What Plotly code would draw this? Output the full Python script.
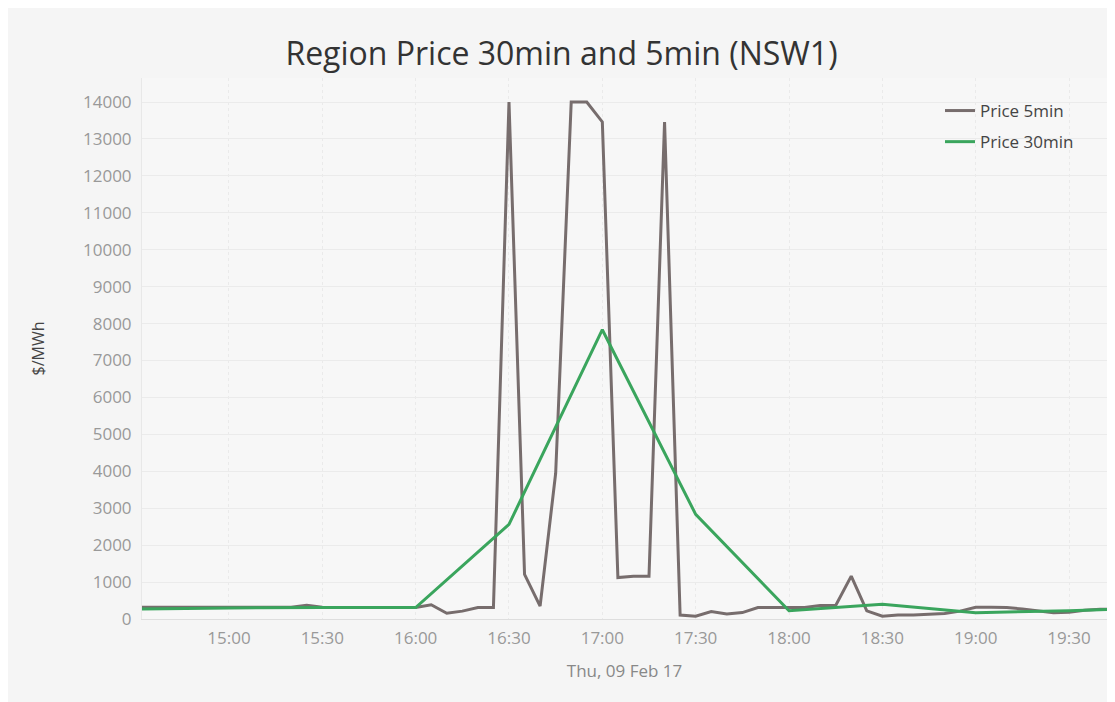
import plotly.graph_objects as go
import pandas as pd

# ---- data ----
times_5min = pd.date_range("2017-02-09 14:30", "2017-02-09 19:45", freq="5min")
price_5min = [
    320, 318, 316, 315, 315, 315,          # 14:30-14:55
    315, 315, 315, 315, 320, 370,          # 15:00-15:25
    320, 315, 312, 312, 310, 310,          # 15:30-15:55
    310, 387, 155, 213, 310, 310,          # 16:00-16:25
    14000, 1209, 348, 3946, 14000, 14000,  # 16:30-16:55
    13460, 1122, 1160, 1160, 13460, 106,   # 17:00-17:25
    77, 203, 135, 174, 310, 310,           # 17:30-17:55
    310, 310, 367, 367, 1160, 222,         # 18:00-18:25
    77, 106, 106, 126, 150, 213,           # 18:30-18:55
    317, 317, 310, 270, 222, 170,          # 19:00-19:25
    185, 240, 262, 270,                    # 19:30-19:45
]
times_30min = pd.date_range("2017-02-09 14:30", "2017-02-09 20:00", freq="30min")
price_30min = [265, 300, 310, 310, 2563, 7834, 2834, 222, 397, 170, 225, 300]

series_names = ["Price 5min", "Price 30min"]
series_colors = ["#776d6d", "#3aa55d"]

title_text = "Region Price 30min and 5min (NSW1)"
x_title = "Thu, 09 Feb 17"
y_title = "$/MWh"
x_range = ["2017-02-09 14:32:03", "2017-02-09 19:42:12"]
y_range = [0, 14650]

# ---- figure (page body has an 8px margin) ----
W, H = 1107, 694
ml, mr, mt, mb = 134, 8, 70, 83
pw, ph = W - ml - mr, H - mt - mb

fig = go.Figure()
fig.add_trace(go.Scatter(x=times_5min, y=price_5min, mode="lines", name=series_names[0],
                         legendgroup="a", line=dict(color=series_colors[0], width=3)))
fig.add_trace(go.Scatter(x=times_30min, y=price_30min, mode="lines", name=series_names[1],
                         legendgroup="b", line=dict(color=series_colors[1], width=3)))

font_family = "Open Sans, DejaVu Sans, sans-serif"
fig.update_layout(
    width=W, height=H,
    margin=dict(l=ml, r=mr, t=mt, b=mb),
    paper_bgcolor="#f5f5f5",
    plot_bgcolor="#f7f7f7",
    font=dict(family=font_family, color="#444"),
    title=dict(text=title_text, x=0.5, xanchor="center", y=1 - 46 / H, yanchor="middle",
               font=dict(size=32, color="#333")),
    showlegend=True,
    legend=dict(x=1 - 28 / pw, xanchor="right", y=1 - 15 / ph, yanchor="top",
                bgcolor="rgba(0,0,0,0)", font=dict(size=17, color="#444"),
                tracegroupgap=6, itemwidth=30),
    xaxis=dict(
        type="date", range=x_range, dtick=30 * 60 * 1000, tickformat="%H:%M",
        tick0="2017-02-09 14:30",
        showgrid=True, gridcolor="#eaeaea", griddash="dot", gridwidth=1,
        showline=True, linecolor="#dedede", linewidth=1,
        zeroline=False, ticks="", ticklabelstandoff=4,
        tickfont=dict(size=17, color="#999"),
        title=dict(text=x_title, font=dict(size=17, color="#888"), standoff=16),
    ),
    yaxis=dict(
        range=y_range, dtick=1000, tick0=0, tickformat="d",
        showgrid=True, gridcolor="#ebebeb", gridwidth=1,
        showline=True, linecolor="#e8e8e8", linewidth=1,
        zeroline=False, ticks="", ticklabelstandoff=6,
        tickfont=dict(size=17, color="#999"),
        title=dict(text=y_title, font=dict(size=16, color="#444"), standoff=34),
    ),
)

fig.write_html("out.html")
